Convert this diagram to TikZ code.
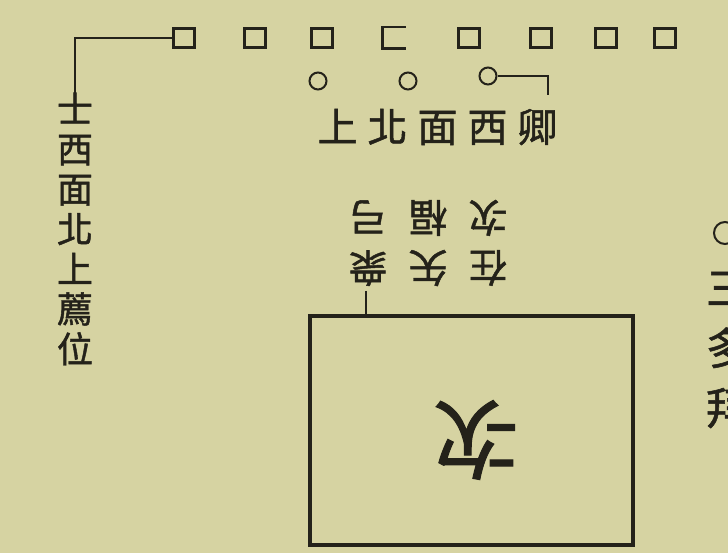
\documentclass[tikz,border=0pt]{standalone}
\usepackage{fontspec}
\newfontfamily\cjk[FakeBold=1.2]{Noto Sans CJK TC}
\usetikzlibrary{positioning}
\definecolor{paper}{RGB}{214,211,162}
\definecolor{ink}{RGB}{36,34,26}

\begin{document}
\begin{tikzpicture}[
x=1pt,
y=-1pt,
seat/.style={
draw=ink,
line width=2.4pt,
minimum width=21pt,
minimum height=19pt,
inner sep=0pt
},
ring/.style={
circle,
draw=ink,
line width=2pt,
minimum size=17pt,
inner sep=0pt
},
rule/.style={
draw=ink,
line width=2.8pt
},
label text/.style={
text=ink,
align=center,
inner sep=1pt
}
]

\fill[paper] (0,0) rectangle (728,553);
\useasboundingbox (0,0) rectangle (728,553);
\clip (0,0) rectangle (728,553);


% top row of seats
\node[seat] (sq1) at (184,38) {};
\node[seat] (sq2) at (255,38) {};
\node[seat] (sq3) at (322,38) {};
\node[seat,draw=none] (sq4) at (394,38) {};
\node[seat] (sq5) at (469,38) {};
\node[seat] (sq6) at (541,38) {};
\node[seat] (sq7) at (606,38) {};
\node[seat] (sq8) at (665,38) {};

\draw[rule,line width=2.4pt] (sq4.north east) -- (sq4.north west)
  -- (sq4.south west) -- (sq4.south east);


% rings
\node[ring] (c1) at (318,81) {};
\node[ring] (c2) at (408,81) {};
\node[ring] (c3) at (488,76) {};
\node[ring,minimum size=22pt] (c4) at (725,233) {};


% texts
\node[label text,font=\cjk\fontsize{36}{40}\selectfont] (shi) at (75,229)
{
士\\西\\面\\北\\上\\薦\\位
};

\node[label text,font=\cjk\fontsize{40}{44}\selectfont] (qing) at (442,127)
{
上\hspace{10pt}北\hspace{10pt}面\hspace{10pt}西\hspace{10pt}卿
};

\node[label text,rotate=180,font=\cjk\fontsize{39}{50}\selectfont] (gear) at (428,243)
{
在\hspace{21pt}矢\hspace{21pt}衆\\
次\hspace{21pt}楅\hspace{21pt}弓
};

\node[label text,font=\cjk\fontsize{44}{60}\selectfont] (east) at (728,350)
{
三\\多\\拜
};


% the tent
\node[draw=ink,line width=3.2pt,minimum width=323pt,minimum height=229pt] (tent) at (471.5,430.5) {};

\node[label text,rotate=180,font=\cjk\fontsize{86}{90}\selectfont] (ci) at (476,440) {次};


% connectors
\coordinate (tie) at (366,291);
\coordinate (qingtop) at (548,95);

\draw[rule] (sq1.west) -| ([yshift=-3pt]shi.north);
\draw[rule,line width=2.2pt] (c3.east) -| (qingtop);
\draw[rule,line width=2.2pt] (tie) -- (tie |- tent.north);

\end{tikzpicture}
\end{document}
